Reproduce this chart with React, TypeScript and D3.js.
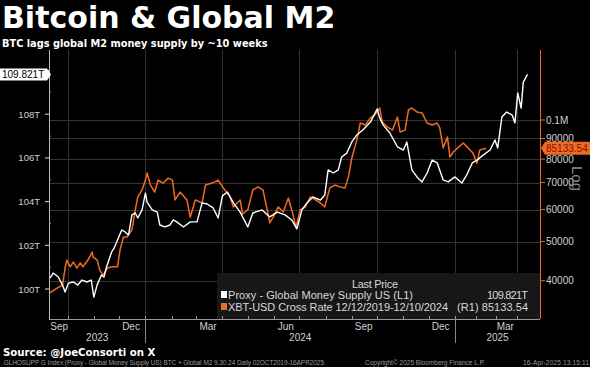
import React, { useEffect, useRef } from "react";
import * as d3 from "d3";

// Global M2 proxy (trillions USD)
const m2: [string, number][] = [
  ["2023-09-10", 100.5], ["2023-09-14", 100.73], ["2023-09-20", 100.55], ["2023-09-25", 100.18],
  ["2023-09-28", 99.86], ["2023-10-02", 100.27], ["2023-10-08", 100.32], ["2023-10-13", 100.18],
  ["2023-10-18", 100.41], ["2023-10-24", 100.32], ["2023-10-29", 100.41], ["2023-11-01", 99.63],
  ["2023-11-05", 100.2], ["2023-11-10", 100.64], ["2023-11-13", 100.55], ["2023-11-16", 101.01],
  ["2023-11-22", 101.69], ["2023-11-25", 101.88], ["2023-11-29", 102.24], ["2023-12-04", 102.7],
  ["2023-12-08", 102.61], ["2023-12-12", 102.47], ["2023-12-16", 103.39], ["2023-12-20", 103.48],
  ["2023-12-23", 103.25], ["2023-12-28", 103.62], ["2024-01-01", 104.39], ["2024-01-03", 103.98],
  ["2024-01-09", 103.62], ["2024-01-15", 103.52], ["2024-01-18", 102.93], ["2024-01-24", 102.84],
  ["2024-01-30", 102.93], ["2024-02-03", 103.16], ["2024-02-07", 103.07], ["2024-02-15", 102.84],
  ["2024-02-23", 103.07], ["2024-03-02", 103.07], ["2024-03-08", 103.94], ["2024-03-14", 103.89],
  ["2024-03-21", 103.71], ["2024-03-27", 103.25], ["2024-04-01", 104.26], ["2024-04-07", 104.44],
  ["2024-04-14", 103.94], ["2024-04-22", 103.52], ["2024-05-01", 102.84], ["2024-05-07", 103.48],
  ["2024-05-18", 103.62], ["2024-05-27", 103.3], ["2024-06-05", 103.52], ["2024-06-14", 103.39],
  ["2024-06-22", 103.16], ["2024-06-28", 102.75], ["2024-07-04", 103.62], ["2024-07-10", 103.94],
  ["2024-07-17", 104.21], ["2024-07-26", 104.07], ["2024-07-31", 104.3], ["2024-08-04", 105.45],
  ["2024-08-10", 105.31], ["2024-08-16", 105.45], ["2024-08-20", 106.04], ["2024-08-26", 106.22],
  ["2024-09-01", 106.73], ["2024-09-07", 107.05], ["2024-09-14", 107.28], ["2024-09-23", 107.64],
  ["2024-10-01", 108.24], ["2024-10-04", 107.83], ["2024-10-08", 107.51], ["2024-10-16", 107.14],
  ["2024-10-25", 106.5], ["2024-11-01", 106.36], ["2024-11-05", 106.73], ["2024-11-11", 105.45],
  ["2024-11-17", 105.13], ["2024-11-23", 104.9], ["2024-11-29", 105.31], ["2024-12-05", 105.9],
  ["2024-12-11", 105.77], ["2024-12-18", 104.99], ["2024-12-24", 104.9], ["2025-01-01", 105.13],
  ["2025-01-11", 104.85], ["2025-01-18", 105.22], ["2025-01-26", 105.77], ["2025-02-02", 105.9],
  ["2025-02-11", 106.13], ["2025-02-21", 106.36], ["2025-02-28", 106.82], ["2025-03-04", 106.45],
  ["2025-03-10", 107.87], ["2025-03-17", 108.1], ["2025-03-25", 107.96], ["2025-03-29", 107.6],
  ["2025-04-02", 108.97], ["2025-04-07", 108.28], ["2025-04-10", 109.47], ["2025-04-16", 109.821],
];

// BTC-USD shifted forward 10 weeks
const btc: [string, number][] = [
  ["2023-09-10", 37300], ["2023-09-19", 38400], ["2023-09-25", 39000], ["2023-09-28", 43000],
  ["2023-09-30", 45000], ["2023-10-04", 43300], ["2023-10-08", 44500], ["2023-10-12", 43000],
  ["2023-10-16", 44300], ["2023-10-19", 43300], ["2023-10-25", 45000], ["2023-10-30", 47100],
  ["2023-10-31", 45800], ["2023-11-05", 45000], ["2023-11-08", 42500], ["2023-11-12", 41300],
  ["2023-11-17", 43000], ["2023-11-23", 43300], ["2023-11-29", 43300], ["2023-12-02", 47700],
  ["2023-12-06", 51300], ["2023-12-10", 51300], ["2023-12-16", 53400], ["2023-12-20", 59900],
  ["2023-12-23", 64500], ["2023-12-28", 67100], ["2024-01-01", 71000], ["2024-01-03", 73900],
  ["2024-01-07", 69000], ["2024-01-12", 66300], ["2024-01-16", 71000], ["2024-01-22", 69800],
  ["2024-01-28", 71800], ["2024-02-02", 71000], ["2024-02-05", 63400], ["2024-02-11", 66300],
  ["2024-02-19", 63400], ["2024-02-23", 57500], ["2024-02-29", 63400], ["2024-03-08", 62300],
  ["2024-03-12", 69000], ["2024-03-20", 69800], ["2024-03-27", 71000], ["2024-04-02", 67900],
  ["2024-04-10", 64500], ["2024-04-14", 60900], ["2024-04-22", 63400], ["2024-04-25", 58500],
  ["2024-05-01", 59900], ["2024-05-07", 67100], ["2024-05-13", 68300], ["2024-05-19", 67100],
  ["2024-05-24", 59900], ["2024-05-27", 55600], ["2024-05-31", 57500], ["2024-06-06", 60900],
  ["2024-06-12", 59200], ["2024-06-18", 64100], ["2024-06-23", 58800], ["2024-06-27", 54300],
  ["2024-07-02", 59900], ["2024-07-08", 60900], ["2024-07-14", 64500], ["2024-07-20", 63400],
  ["2024-07-26", 62300], ["2024-07-31", 60900], ["2024-08-06", 67900], ["2024-08-12", 69000],
  ["2024-08-18", 68300], ["2024-08-24", 67900], ["2024-08-28", 72300], ["2024-09-01", 80500],
  ["2024-09-07", 89300], ["2024-09-11", 98300], ["2024-09-17", 97200], ["2024-09-23", 101200],
  ["2024-09-28", 102900], ["2024-10-04", 107100], ["2024-10-07", 98900], ["2024-10-13", 96100],
  ["2024-10-19", 94400], ["2024-10-25", 101700], ["2024-10-28", 93400], ["2024-11-03", 94400],
  ["2024-11-07", 105900], ["2024-11-11", 107100], ["2024-11-17", 104700], ["2024-11-23", 104100],
  ["2024-11-29", 98300], ["2024-12-05", 97200], ["2024-12-11", 98300], ["2024-12-14", 95600],
  ["2024-12-18", 85300], ["2024-12-23", 90800], ["2024-12-26", 81000], ["2024-12-30", 83300],
  ["2025-01-05", 85300], ["2025-01-13", 87700], ["2025-01-20", 85300], ["2025-01-27", 82800],
  ["2025-02-02", 78200], ["2025-02-06", 84300], ["2025-02-15", 85133.54],
];

const leftTicks = [100, 102, 104, 106, 108, 110];
const leftMinor = [101, 103, 105, 107, 109];
const rightTicks = [40000, 50000, 60000, 70000, 80000, 90000, 100000];
const quarterLines = ["2023-10-01", "2024-01-01", "2024-04-01", "2024-07-01", "2024-10-01", "2025-01-01", "2025-04-01"];
const monthLabels: [string, string][] = [
  ["2023-09-21", "Sep"], ["2023-12-15", "Dec"], ["2024-03-15", "Mar"], ["2024-06-15", "Jun"],
  ["2024-09-15", "Sep"], ["2024-12-15", "Dec"], ["2025-03-15", "Mar"],
];
const years = [2023, 2024, 2025];

const ORANGE = "#f26a21";
const FONT = "'Liberation Sans', Arial, sans-serif";
const BOLD = "'DejaVu Sans', Verdana, sans-serif";

const W = 590;
const H = 367;

const Chart: React.FC = () => {
  const ref = useRef<SVGSVGElement | null>(null);

  useEffect(() => {
    const svg = d3.select(ref.current);
    svg.selectAll("*").remove();
    svg.attr("width", W).attr("height", H);

    const left = 49, right = 540, top = 50, bottom = 319;
    const parse = d3.timeParse("%Y-%m-%d");

    // Bloomberg squeezes the 2025 part of the axis
    const x = d3
      .scaleTime()
      .domain([parse("2023-09-09")!, parse("2025-01-01")!, parse("2025-04-01")!, parse("2025-05-04")!])
      .range([left, 455, 517, right]);
    const yL = d3.scaleLinear().domain([100, 110]).range([289, 70.5]);
    const yR = d3.scaleLog().domain([40000, 100000]).range([280.7, 120]);

    svg.append("rect").attr("width", W).attr("height", H).attr("fill", "#000");

    // gridlines
    const grid = svg.append("g").attr("stroke", "#333").attr("stroke-width", 1);
    grid
      .selectAll("line.h")
      .data(rightTicks)
      .enter()
      .append("line")
      .attr("x1", left)
      .attr("x2", right)
      .attr("y1", (d) => Math.round(yR(d)) + 0.5)
      .attr("y2", (d) => Math.round(yR(d)) + 0.5);
    grid
      .selectAll("line.v")
      .data(quarterLines)
      .enter()
      .append("line")
      .attr("x1", (d) => Math.round(x(parse(d)!)) + 0.5)
      .attr("x2", (d) => Math.round(x(parse(d)!)) + 0.5)
      .attr("y1", top)
      .attr("y2", bottom);

    // legend box (behind the lines)
    svg
      .append("rect")
      .attr("x", 217)
      .attr("y", 273)
      .attr("width", right - 217)
      .attr("height", bottom - 273)
      .attr("fill", "#171717");

    // lines
    const lineR = d3
      .line<[string, number]>()
      .x((d) => x(parse(d[0])!))
      .y((d) => yR(d[1]));
    const lineL = d3
      .line<[string, number]>()
      .x((d) => x(parse(d[0])!))
      .y((d) => yL(d[1]));

    svg
      .append("path")
      .datum(btc)
      .attr("d", lineR)
      .attr("fill", "none")
      .attr("stroke", ORANGE)
      .attr("stroke-width", 1.5)
      .attr("stroke-linejoin", "round");
    svg
      .append("path")
      .datum(m2)
      .attr("d", lineL)
      .attr("fill", "none")
      .attr("stroke", "#fff")
      .attr("stroke-width", 1.4)
      .attr("stroke-linejoin", "round");

    // legend text
    const lg = svg.append("g").attr("font-family", FONT).attr("font-size", 11).attr("fill", "#d8d8d8");
    lg.append("text").attr("x", 352).attr("y", 288).attr("textLength", 46).text("Last Price");
    lg.append("rect").attr("x", 221).attr("y", 291).attr("width", 6).attr("height", 7).attr("fill", "#fff");
    lg.append("text").attr("x", 228).attr("y", 299).attr("textLength", 185).text("Proxy - Global Money Supply US  (L1)");
    lg.append("text").attr("x", 487).attr("y", 299).attr("textLength", 41).text("109.821T");
    lg.append("rect").attr("x", 221).attr("y", 303).attr("width", 6).attr("height", 7).attr("fill", ORANGE);
    lg.append("text").attr("x", 228).attr("y", 311).attr("textLength", 220).text("XBT-USD Cross Rate 12/12/2019-12/10/2024");
    lg.append("text").attr("x", 457).attr("y", 311).attr("textLength", 71).text("(R1) 85133.54");

    // left axis
    const la = svg.append("g").attr("font-family", FONT).attr("font-size", 9.5).attr("fill", "#d0d0d0");
    la.append("line").attr("x1", left + 0.5).attr("x2", left + 0.5).attr("y1", top).attr("y2", bottom).attr("stroke", "#bbb");
    la.selectAll("line.t")
      .data(leftTicks)
      .enter()
      .append("line")
      .attr("x1", left - 4)
      .attr("x2", left)
      .attr("y1", (d) => yL(d))
      .attr("y2", (d) => yL(d))
      .attr("stroke", "#ddd");
    la.selectAll("line.m")
      .data(leftMinor)
      .enter()
      .append("line")
      .attr("x1", left)
      .attr("x2", left + 2)
      .attr("y1", (d) => yL(d))
      .attr("y2", (d) => yL(d))
      .attr("stroke", "#999");
    // 110T sits behind the last-value tag, so only its tick shows
    la.selectAll("text")
      .data(leftTicks.filter((d) => d < 110))
      .enter()
      .append("text")
      .attr("x", left - 9)
      .attr("y", (d) => yL(d) + 3.5)
      .attr("text-anchor", "end")
      .text((d) => `${d}T`);

    // right axis
    const ra = svg.append("g").attr("font-family", FONT).attr("font-size", 10).attr("fill", "#d0d0d0");
    ra.append("line").attr("x1", right + 0.5).attr("x2", right + 0.5).attr("y1", top).attr("y2", bottom).attr("stroke", ORANGE);
    ra.selectAll("line.t")
      .data(rightTicks)
      .enter()
      .append("line")
      .attr("x1", right)
      .attr("x2", right + 5)
      .attr("y1", (d) => yR(d))
      .attr("y2", (d) => yR(d))
      .attr("stroke", ORANGE);
    ra.selectAll("text")
      .data(rightTicks)
      .enter()
      .append("text")
      .attr("x", right + 6)
      .attr("y", (d) => yR(d) + 3.5)
      .text((d) => (d >= 100000 ? `${d / 1e6}M` : `${d}`));
    ra.append("text")
      .attr("transform", `translate(572,166) rotate(90)`)
      .attr("font-size", 15)
      .attr("fill", "#8a8a8a")
      .text("Log");

    // x axis
    const xa = svg.append("g").attr("font-family", FONT).attr("font-size", 10).attr("fill", "#d0d0d0");
    xa.append("line").attr("x1", left).attr("x2", right).attr("y1", bottom + 0.5).attr("y2", bottom + 0.5).attr("stroke", "#999");
    xa.selectAll("line.m")
      .data(d3.timeMonth.range(parse("2023-10-01")!, parse("2025-05-01")!))
      .enter()
      .append("line")
      .attr("x1", (d) => Math.round(x(d)) + 0.5)
      .attr("x2", (d) => Math.round(x(d)) + 0.5)
      .attr("y1", bottom - 3)
      .attr("y2", bottom)
      .attr("stroke", "#999");
    xa.selectAll("line.y")
      .data(["2024-01-01", "2025-01-01"])
      .enter()
      .append("line")
      .attr("x1", (d) => Math.round(x(parse(d)!)) + 0.5)
      .attr("x2", (d) => Math.round(x(parse(d)!)) + 0.5)
      .attr("y1", bottom)
      .attr("y2", bottom + 24)
      .attr("stroke", "#888");
    xa.selectAll("text.m")
      .data(monthLabels)
      .enter()
      .append("text")
      .attr("x", (d) => x(parse(d[0])!))
      .attr("y", bottom + 11)
      .attr("text-anchor", "middle")
      .text((d) => d[1]);
    const dom = x.domain() as Date[];
    xa.selectAll("text.y")
      .data(years)
      .enter()
      .append("text")
      .attr("x", (yr) => {
        const a = Math.max(+dom[0], +new Date(yr, 0, 1));
        const b = Math.min(+dom[dom.length - 1], +new Date(yr + 1, 0, 1));
        return (x(new Date(a)) + x(new Date(b))) / 2;
      })
      .attr("y", bottom + 22)
      .attr("text-anchor", "middle")
      .text((d) => `${d}`);

    // last-value tags
    const lastM2 = m2[m2.length - 1][1];
    const ty = yL(lastM2);
    svg
      .append("path")
      .attr("d", `M0,${ty - 6}H47L51,${ty}L47,${ty + 6}H0Z`)
      .attr("fill", "#fff");
    svg
      .append("text")
      .attr("x", 2)
      .attr("y", ty + 3.5)
      .attr("font-family", FONT)
      .attr("font-size", 10)
      .attr("fill", "#000")
      .text(`${lastM2.toFixed(3)}T`);

    const lastBtc = btc[btc.length - 1][1];
    const ry = yR(lastBtc);
    svg
      .append("path")
      .attr("d", `M541,${ry}L545,${ry - 6.5}H590V${ry + 6.5}H545Z`)
      .attr("fill", ORANGE);
    svg
      .append("text")
      .attr("x", 546)
      .attr("y", ry + 3.5)
      .attr("font-family", FONT)
      .attr("font-size", 10)
      .attr("fill", "#7a1400")
      .text(lastBtc.toFixed(2));

    // titles and footer
    svg
      .append("text")
      .attr("x", 2)
      .attr("y", 28)
      .attr("font-family", BOLD)
      .attr("font-weight", "bold")
      .attr("font-size", 30)
      .attr("fill", "#fff")
      .text("Bitcoin & Global M2");
    svg
      .append("text")
      .attr("x", 2)
      .attr("y", 47)
      .attr("font-family", BOLD)
      .attr("font-weight", "bold")
      .attr("font-size", 9.8)
      .attr("fill", "#fff")
      .text("BTC lags global M2 money supply by ~10 weeks");
    svg
      .append("text")
      .attr("x", 3)
      .attr("y", 356)
      .attr("font-family", BOLD)
      .attr("font-weight", "bold")
      .attr("font-size", 10.2)
      .attr("fill", "#fff")
      .text("Source: @JoeConsorti on X");
    const ft = svg.append("g").attr("font-family", FONT).attr("font-size", 6.5).attr("fill", "#9a9a9a");
    ft.append("text")
      .attr("x", 2)
      .attr("y", 365)
      .attr("textLength", 322)
      .text(".GLHOSUPP G Index (Proxy - Global Money Supply US) BTC + Global M2 9.30.24  Daily 02OCT2019-16APR2025");
    ft.append("text").attr("x", 365).attr("y", 365).attr("textLength", 120).text("Copyright© 2025 Bloomberg Finance L.P.");
    ft.append("text").attr("x", 523).attr("y", 365).attr("textLength", 66).text("16-Apr-2025 13:15:11");
  }, []);

  return <svg ref={ref} style={{ position: "absolute", left: 0, top: 0, display: "block" }}></svg>;
};

export default function App() {
  return <Chart />;
}
